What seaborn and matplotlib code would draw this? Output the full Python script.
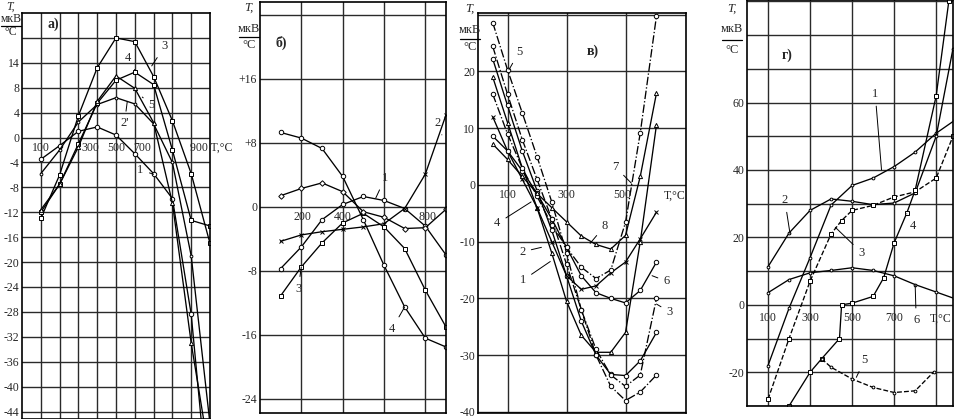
import matplotlib
matplotlib.use('Agg')
import matplotlib.pyplot as plt
import seaborn as sns
from matplotlib.lines import Line2D

# panel а)
a_t = [100, 200, 300, 400, 500, 600, 700, 800, 900, 1000]
a_t1 = [100, 200, 300, 400, 500, 600, 700, 800, 900, 955]
a_t5 = [100, 200, 300, 400, 500, 600, 700, 800, 900, 970]
a_c1 = [-3.5, -1.3, 1.0, 1.7, 0.4, -2.6, -5.8, -9.8, -28.4, -46]
a_c2 = [-5.8, -2.0, 2.5, 5.3, 6.4, 5.4, 2.2, -4.0, -19.0, -46]
a_c3 = [-13.0, -6.0, 3.5, 11.2, 16.0, 15.4, 9.8, 2.7, -5.8, -17.0]
a_c4 = [-12.0, -7.5, -1.0, 5.5, 9.2, 10.5, 8.5, -2.0, -13.3, -14.2]
a_c5 = [-11.6, -7.5, -1.5, 5.8, 9.9, 7.9, 2.4, -10.5, -33.0, -46]

# panel б)
b_t = [100, 200, 300, 400, 500, 600, 700, 800, 900]
b_c1 = [-7.7, -5.0, -1.6, 0.3, 1.3, 0.8, -0.2, -2.4, -6.0]
b_c2 = [-4.3, -3.5, -3.1, -2.8, -2.5, -2.1, -0.2, 4.1, 11.5]
b_c3 = [-11.1, -7.5, -4.5, -2.0, -0.8, -2.5, -5.2, -10.4, -15.0]
b_c4 = [9.3, 8.6, 7.3, 3.8, -1.6, -7.3, -12.5, -16.4, -17.5]
b_c5 = [1.4, 2.3, 3.0, 1.9, -0.6, -1.3, -2.7, -2.6, -0.3]

# panel в)
v_t = [50, 100, 150, 200, 250, 300, 350, 400, 450, 500, 550, 605]
v_c1 = [22.2, 14, 6, -1, -8, -16, -24, -30, -33.4, -33.6, -31, -26]
v_c2 = [19, 11, 3, -4, -12, -20.5, -26.5, -29.5, -29.5, -26, -10, 10.6]
v_c3 = [24.4, 16, 8, 1, -6, -14, -22, -29, -33.5, -35.5, -33.5, -20]
v_c4 = [12, 6, 1, -4, -10, -16, -18.4, -17.8, -15.5, -13.6, -9.5, -4.8]
v_c5 = [28.6, 20.3, 12.7, 5, -3, -12, -22, -30, -35.5, -38, -36.5, -33.5]
v_c6 = [8.6, 6, 2.5, -1.5, -6, -11, -16, -19, -20, -20.8, -18.6, -13.6]
v_c7 = [16, 9, 3, -2, -7, -11, -14.5, -16.5, -15, -6.6, 9.2, 29.8]
v_c8 = [7.2, 4.5, 1.5, -1.5, -4, -6.5, -9, -10.5, -11.3, -8.9, 1.5, 16.2]

# panel г)
g_t1 = [100, 200, 300, 400, 500, 600, 700, 800, 900, 990]
g_c1 = [-18, -1, 14, 29.6, 35.4, 37.6, 41, 45.3, 50.9, 54.8]
g_t2 = [100, 200, 300, 400, 500, 600, 700, 800, 900, 980]
g_c2 = [11.3, 21.3, 28, 31.4, 30.7, 29.7, 30.2, 33.2, 50, 76]
g_t3 = [100, 200, 300, 400, 450, 500, 600, 700, 800, 900, 980]
g_c3 = [-28, -10, 7, 21, 25, 28, 29.5, 32, 33.5, 37.6, 50]
g_t4 = [200, 300, 355, 440, 450, 500, 600, 650, 700, 760, 800, 900, 960]
g_c4 = [-30, -20, -16, -10, 0, 0.5, 2.5, 8, 18.4, 27.2, 34, 62, 90]
g_t5 = [355, 400, 500, 600, 700, 800, 890]
g_c5 = [-16, -18.5, -22, -24.5, -26, -25.5, -19.8]
g_t6 = [100, 200, 300, 400, 500, 600, 700, 800, 900, 990]
g_c6 = [3.6, 7.5, 9.5, 10.2, 11, 10.2, 8.6, 6, 3.8, 1.8]

W, H = 957, 419
sns.set_style('white')
plt.rcParams['font.family'] = ['Liberation Serif', 'DejaVu Serif']
fig = plt.figure(figsize=(W / 100, H / 100), dpi=100)


def make_ax(l, r, t, b):
    return fig.add_axes([l / W, 1 - b / H, (r - l) / W, (b - t) / H])


def curve(ax, x, y, marker='o', ls='-', ms=3.2):
    sns.lineplot(x=x, y=y, ax=ax, color='black', lw=0.95, marker=marker, markersize=ms,
                 markerfacecolor='white', markeredgecolor='black', markeredgewidth=0.7,
                 linestyle=ls, sort=False, estimator=None, legend=False)


def style(ax, xlim, ylim, xgrid, yticks, ylabels):
    ax.set_xlim(*xlim)
    ax.set_ylim(*ylim)
    ax.set_xticks(xgrid)
    ax.set_xticklabels([])
    ax.set_yticks(yticks)
    ax.set_yticklabels(ylabels, fontsize=8.5)
    ax.tick_params(length=0, pad=2)
    ax.grid(True, color='#2a2a2a', lw=1.0)
    ax.set_xlabel('')
    ax.set_ylabel('')
    for s in ax.spines.values():
        s.set_color('black')
        s.set_linewidth(1.2)


def ylab(x, y_t, y_m, y_line, y_c, fs=9):
    fig.text(x / W, 1 - y_t / H, 'T,', fontsize=fs, style='italic', ha='center', va='center')
    fig.text(x / W, 1 - y_m / H, 'мкВ', fontsize=fs, ha='center', va='center')
    fig.add_artist(Line2D([(x - 10) / W, (x + 10) / W], [1 - y_line / H] * 2, color='black', lw=0.9))
    fig.text(x / W, 1 - y_c / H, '°C', fontsize=fs, ha='center', va='center')


def lbl(ax, s, xy, xytext):
    ax.annotate(s, xy=xy, xytext=xytext, fontsize=9, ha='center', va='center',
                arrowprops=dict(arrowstyle='-', lw=0.7, color='black', shrinkA=2, shrinkB=0))


# а)
ax = make_ax(22, 210, 13, 419)
curve(ax, a_t1, a_c1, 'o')
curve(ax, a_t, a_c2, '.', ms=4)
curve(ax, a_t, a_c3, 's', ms=3)
curve(ax, a_t, a_c4, 's', ms=3)
curve(ax, a_t5, a_c5, '^', ms=3)
ay = list(range(-44, 17, 4))
style(ax, (0, 1000), (-45.2, 20), range(100, 1000, 100), ay,
      ['14' if v == 12 else ('' if v == 16 else str(v)) for v in ay])
for s, x, ha in [('100', 100, 'center'), ('300', 365, 'center'), ('500', 500, 'center'),
                 ('700', 640, 'center'), ('900 T,°C', 895, 'left')]:
    ax.text(x, -0.7, s, fontsize=8.5, ha=ha, va='top')
ax.text(165, 18.2, 'а)', fontsize=10, fontweight='bold', ha='center', va='center')
lbl(ax, '3', (690, 11.5), (760, 14.7))
lbl(ax, '4', (600, 10.8), (565, 12.8))
lbl(ax, '5', (640, 6.5), (690, 5.2))
lbl(ax, "2'", (560, 5.8), (545, 2.3))
lbl(ax, '1', (700, -5.9), (630, -5.2))
ylab(11, 7, 19, 26, 32, fs=8.5)

# б)
ax = make_ax(260, 446, 2, 413)
curve(ax, b_t, b_c1, 'o')
curve(ax, b_t, b_c2, 'x', ms=2.5)
curve(ax, b_t, b_c3, 's', ms=3)
curve(ax, b_t, b_c4, 'o')
curve(ax, b_t, b_c5, 'D', ms=2.8)
by = [-24, -16, -8, 0, 8, 16, 24]
style(ax, (0, 900), (-25.75, 25.6), [200, 400, 600, 800], by,
      ['-24', '-16', '-8', '0', '+8', '+16', ''])
for s, x in [('200', 205), ('400', 400), ('800', 810)]:
    ax.text(x, -0.5, s, fontsize=8.5, ha='center', va='top')
ax.text(105, 20.5, 'б)', fontsize=10, fontweight='bold', ha='center', va='center')
lbl(ax, '1', (560, 1.1), (605, 3.6))
lbl(ax, '2', (880, 9.0), (860, 10.5))
lbl(ax, '3', (200, -7.5), (185, -10.2))
lbl(ax, '4', (700, -12.5), (640, -15.2))
ylab(249, 8, 29, 37, 45)

# в)
ax = make_ax(478, 686, 13, 413)
curve(ax, v_t, v_c1, 'o')
curve(ax, v_t, v_c2, '^', ms=3)
curve(ax, v_t, v_c3, 'o', ls='-.')
curve(ax, v_t, v_c4, 'x', ms=2.8)
curve(ax, v_t, v_c5, 'o', ls='-.')
curve(ax, v_t, v_c6, 'o')
curve(ax, v_t, v_c7, 'o', ls='-.')
curve(ax, v_t, v_c8, '^', ms=3)
vy = list(range(-40, 31, 10))
style(ax, (0, 705), (-40.2, 30.3), [100, 300, 500], vy,
      ['' if v == 30 else str(v) for v in vy])
for s, x, ha in [('100', 100, 'center'), ('300', 300, 'center'), ('500', 490, 'center'),
                 ('T,°C', 665, 'center')]:
    ax.text(x, -0.8, s, fontsize=8.5, ha=ha, va='top')
ax.text(390, 23.5, 'в)', fontsize=10, fontweight='bold', ha='center', va='center')
lbl(ax, '5', (105, 20.3), (140, 23.5))
lbl(ax, '7', (520, 0.3), (465, 3.2))
lbl(ax, '8', (380, -10.3), (430, -7.2))
lbl(ax, '6', (590, -16), (640, -17))
lbl(ax, '3', (605, -21), (650, -22.4))
lbl(ax, '4', (180, -3), (65, -6.8))
lbl(ax, '2', (215, -11), (150, -11.8))
lbl(ax, '1', (245, -13.5), (152, -16.8))
ylab(470, 9, 30, 39, 47)

# г)
ax = make_ax(747, 953, 0, 406)
curve(ax, g_t1, g_c1, '.', ms=4)
curve(ax, g_t2, g_c2, '.', ms=4)
curve(ax, g_t3, g_c3, 's', ls='--', ms=3)
curve(ax, g_t4, g_c4, 's', ms=3)
curve(ax, g_t5, g_c5, '.', ls='--', ms=4)
curve(ax, g_t6, g_c6, '.', ms=4)
gy = list(range(-30, 91, 10))
style(ax, (0, 980), (-30, 90.4), [100, 300, 500, 700, 900], gy,
      [str(v) if v in (-20, 0, 20, 40, 60) else '' for v in gy])
for s, x in [('100', 100), ('300', 300), ('500', 500), ('700', 700), ('T,°C', 920)]:
    ax.text(x, -2.2, s, fontsize=8.5, ha='center', va='top')
ax.text(190, 74, 'г)', fontsize=10, fontweight='bold', ha='center', va='center')
lbl(ax, '1', (640, 40), (610, 62.5))
lbl(ax, '2', (205, 21), (180, 31))
lbl(ax, '3', (420, 23), (545, 15.5))
lbl(ax, '4', (760, 27), (790, 23.5))
lbl(ax, '5', (520, -21.5), (560, -16.3))
lbl(ax, '6', (800, 6), (805, -4.5))
ylab(732, 9, 29, 40, 50)

fig.savefig('out.png', dpi=100)
